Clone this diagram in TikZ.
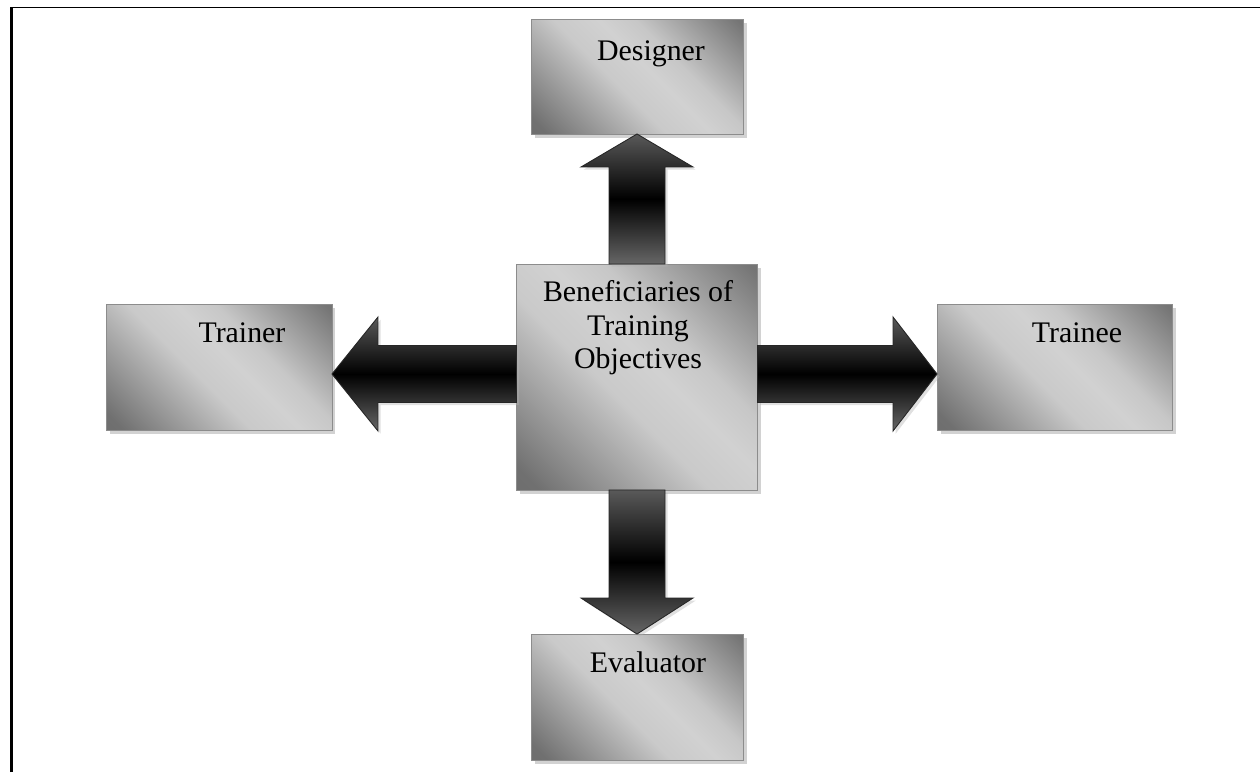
\documentclass[tikz,border=0pt]{standalone}
\usepackage{fontspec}
\setmainfont{Liberation Serif}
\usepackage{tikz}
\usetikzlibrary{shadows}

\pgfdeclareverticalshading{boxshade}{100bp}{color(0bp)=(black!60); color(18bp)=(black!56);
    color(44bp)=(black!21); color(54bp)=(black!18); color(62bp)=(black!22);
    color(84bp)=(black!54); color(100bp)=(black!58)}

\begin{document}
\begin{tikzpicture}[x=0.02cm,y=-0.02cm,
    box/.style={draw=black!45, line width=0.5pt, inner sep=0pt, outer sep=0pt,
        shading=boxshade, shading angle=-45,
        drop shadow={shadow xshift=2pt, shadow yshift=-2pt, fill=black!35, opacity=0.5}},
    blockarrow/.style={draw=black!85, line width=0.5pt, line join=miter,
        top color=black!65, bottom color=black!60, middle color=black,
        drop shadow={shadow xshift=1.5pt, shadow yshift=-1.5pt, fill=black!30, opacity=0.4}},
    lbl/.style={inner sep=0pt, anchor=base, font=\fontsize{17}{19}\selectfont}]
    \useasboundingbox (0,0) rectangle (1260,772);

    % Frame
    \draw[line width=1.3pt] (11.5,772) -- (11.5,7.5);
    \draw[line width=1.1pt] (10,7.5) -- (1260,7.5);

    % Nodes
    \node[box, minimum width=4.82cm, minimum height=4.52cm] (hub) at (637,377) {};
    \node[box, minimum width=4.24cm, minimum height=2.3cm] (designer) at (637,76.5) {};
    \node[box, minimum width=4.52cm, minimum height=2.52cm] (trainer) at (219,367) {};
    \node[box, minimum width=4.7cm, minimum height=2.52cm] (trainee) at (1054.5,367) {};
    \node[box, minimum width=4.24cm, minimum height=2.52cm] (evaluator) at (637,697) {};

    % Arrows
    \draw[blockarrow] ([shift={(-28,0)}]hub.north) -- ([shift={(-28,33)}]designer.south)
        -- ([shift={(-56,33)}]designer.south) -- (designer.south)
        -- ([shift={(56,33)}]designer.south) -- ([shift={(28,33)}]designer.south)
        -- ([shift={(28,0)}]hub.north) -- cycle;
    \draw[blockarrow] ([shift={(-28,0)}]hub.south) -- ([shift={(-28,-36)}]evaluator.north)
        -- ([shift={(-56,-36)}]evaluator.north) -- (evaluator.north)
        -- ([shift={(56,-36)}]evaluator.north) -- ([shift={(28,-36)}]evaluator.north)
        -- ([shift={(28,0)}]hub.south) -- cycle;
    \draw[blockarrow] ([shift={(0,-31.5)}]hub.west) -- ([shift={(46,-21.5)}]trainer.east)
        -- ([shift={(46,-50)}]trainer.east) -- ([shift={(0,7)}]trainer.east)
        -- ([shift={(46,64)}]trainer.east) -- ([shift={(46,35.5)}]trainer.east)
        -- ([shift={(0,25.5)}]hub.west) -- cycle;
    \draw[blockarrow] ([shift={(0,-31.5)}]hub.east) -- ([shift={(-44,-21.5)}]trainee.west)
        -- ([shift={(-44,-50)}]trainee.west) -- ([shift={(0,7)}]trainee.west)
        -- ([shift={(-44,64)}]trainee.west) -- ([shift={(-44,35.5)}]trainee.west)
        -- ([shift={(0,25.5)}]hub.east) -- cycle;

    % Labels
    \node[lbl] (designer-t) at (651,60) {Designer};
    \node[lbl] (trainer-t) at (242,342) {Trainer};
    \node[lbl] (trainee-t) at (1077,342) {Trainee};
    \node[lbl] (evaluator-t) at (648,672) {Evaluator};
    \node[lbl, anchor=center, align=center] (hub-t) at (638,328) {Beneficiaries of\\Training\\Objectives};
\end{tikzpicture}
\end{document}
